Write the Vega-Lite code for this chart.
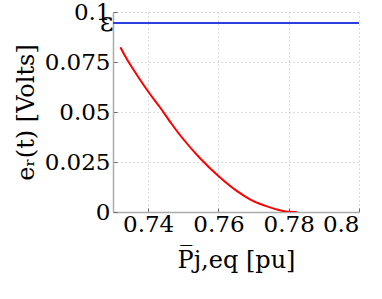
{
  "$schema": "https://vega.github.io/schema/vega-lite/v6.json",
  "autosize": "none",
  "width": 246,
  "height": 200,
  "padding": {"left": 113, "top": 12, "right": 23, "bottom": 87},
  "background": "white",
  "config": {
    "view": {"stroke": null},
    "font": "DejaVu Serif",
    "axis": {
      "labelFont": "DejaVu Serif",
      "titleFont": "DejaVu Serif",
      "labelFontSize": 23,
      "titleFontSize": 24,
      "titleFontWeight": "normal",
      "labelColor": "black",
      "titleColor": "black",
      "domainColor": "#aaaaaa",
      "domainWidth": 1.5,
      "tickColor": "#666666",
      "tickSize": -4,
      "gridColor": "#bbbbbb",
      "gridDash": [1, 3],
      "gridWidth": 1
    }
  },
  "datasets": {
    "curves": [
      {"x": 0.73, "y": 0.0945, "s": "eps"},
      {"x": 0.8, "y": 0.0945, "s": "eps"},
      {"x": 0.7321, "y": 0.0824, "s": "err"},
      {"x": 0.7336, "y": 0.0775, "s": "err"},
      {"x": 0.7370, "y": 0.068, "s": "err"},
      {"x": 0.7401, "y": 0.0600, "s": "err"},
      {"x": 0.7433, "y": 0.0525, "s": "err"},
      {"x": 0.7465, "y": 0.0445, "s": "err"},
      {"x": 0.7495, "y": 0.0375, "s": "err"},
      {"x": 0.7547, "y": 0.0270, "s": "err"},
      {"x": 0.7603, "y": 0.0175, "s": "err"},
      {"x": 0.765, "y": 0.0108, "s": "err"},
      {"x": 0.7691, "y": 0.0062, "s": "err"},
      {"x": 0.7749, "y": 0.0022, "s": "err"},
      {"x": 0.7785, "y": 0.0005, "s": "err"},
      {"x": 0.7800, "y": 0.0001, "s": "err"},
      {"x": 0.7823, "y": 0.0, "s": "err"}
    ],
    "label": [{"x": 0.7282, "y": 0.0945, "t": "ε"}]
  },
  "layer": [
    {
      "data": {"name": "curves"},
      "mark": {"type": "line", "strokeWidth": 2, "clip": true, "interpolate": "monotone"},
      "encoding": {
        "x": {
          "field": "x", "type": "quantitative",
          "scale": {"domain": [0.73, 0.8], "nice": false, "zero": false},
          "axis": {
            "values": [0.74, 0.76, 0.78, 0.8],
            "labelExpr": "datum.value == 0.8 ? '0.8' : format(datum.value, '.2f')",
            "labelPadding": 5,
            "labelFont": "DejaVu Serif",
            "titleFont": "DejaVu Serif",
            "title": "P̅j,eq [pu]",
            "titlePadding": 12
          }
        },
        "y": {
          "field": "y", "type": "quantitative",
          "scale": {"domain": [0, 0.1], "nice": false},
          "axis": {
            "values": [0, 0.025, 0.05, 0.075, 0.1],
            "labelExpr": "datum.value == 0 ? '0' : datum.value == 0.1 ? '0.1' : datum.value == 0.05 ? '0.05' : format(datum.value, '.3f')",
            "labelPadding": 7,
            "labelFont": "DejaVu Serif",
            "titleFont": "DejaVu Serif",
            "title": "eᵣ(t) [Volts]",
            "titlePadding": 6
          }
        },
        "color": {
          "field": "s", "type": "nominal",
          "scale": {"domain": ["eps", "err"], "range": ["#2b3fe0", "#ff0000"]},
          "legend": null
        }
      }
    },
    {
      "data": {"name": "label"},
      "mark": {"type": "text", "fontSize": 26, "font": "DejaVu Serif", "color": "black", "baseline": "middle", "align": "center", "clip": false},
      "encoding": {
        "x": {"field": "x", "type": "quantitative"},
        "y": {"field": "y", "type": "quantitative"},
        "text": {"field": "t"}
      }
    }
  ]
}
